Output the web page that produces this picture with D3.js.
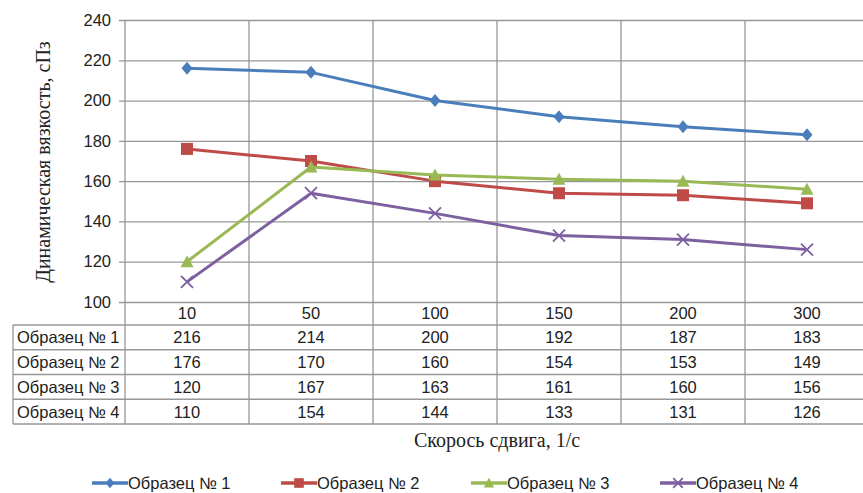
<!DOCTYPE html>
<html>
<head>
<meta charset="utf-8">
<script src="https://cdn.jsdelivr.net/npm/d3@7/dist/d3.min.js"></script>
<style>
  html, body { margin: 0; padding: 0; background: #fff; }
  svg { display: block; }
</style>
</head>
<body>
<script>
// Shear rates (1/s) and dynamic viscosity (cP) for four samples
const shearRates = ["10", "50", "100", "150", "200", "300"];
const sampleNames = ["Образец № 1", "Образец № 2", "Образец № 3", "Образец № 4"];
const sample1 = [216, 214, 200, 192, 187, 183];
const sample2 = [176, 170, 160, 154, 153, 149];
const sample3 = [120, 167, 163, 161, 160, 156];
const sample4 = [110, 154, 144, 133, 131, 126];
const yTicks = [100, 120, 140, 160, 180, 200, 220, 240];

const seriesValues = [sample1, sample2, sample3, sample4];
const colors = ["#4A7EBB", "#BE4B48", "#98B954", "#7D60A0"];
const markerTypes = ["diamond", "square", "triangle", "cross"];

const W = 863, H = 493;
const plot = { left: 125, right: 869, top: 20, bottom: 302 };
const rowH = 24.75;
const tableLeft = 13;
const tableTop = plot.bottom + 23;
const tableBottom = tableTop + rowH * sampleNames.length;
const gridColor = "#979797";
const sansFont = "'Liberation Sans', Arial, sans-serif";
const serifFont = "'Liberation Serif', 'Times New Roman', serif";
const textSize = 16.5;

const svg = d3.select("body").append("svg")
  .attr("width", W).attr("height", H);

const x = d3.scaleBand().domain(shearRates).range([plot.left, plot.right]);
const y = d3.scaleLinear().domain([100, 240]).range([plot.bottom, plot.top]);

// Horizontal gridlines with left tick marks
const yAxis = d3.axisLeft(y).tickValues(yTicks)
  .tickSize(-(plot.right - plot.left)).tickPadding(14);
const gy = svg.append("g").attr("transform", `translate(${plot.left},0)`).call(yAxis);
gy.select(".domain").remove();
gy.selectAll(".tick line").attr("stroke", gridColor).attr("stroke-width", 1.3)
  .attr("x1", -6);
gy.selectAll(".tick text").attr("font-family", sansFont).attr("font-size", textSize)
  .attr("fill", "#222");

// Column boundaries run from the top of the plot through the data table
const bounds = shearRates.map(d => x(d)).concat([plot.right]);
svg.append("g").selectAll("line").data(bounds).join("line")
  .attr("x1", d => d).attr("x2", d => d)
  .attr("y1", plot.top).attr("y2", tableBottom)
  .attr("stroke", gridColor).attr("stroke-width", 1.3);

// Table row borders
const rowLines = d3.range(sampleNames.length + 1).map(i => tableTop + i * rowH);
svg.append("g").selectAll("line").data(rowLines).join("line")
  .attr("x1", tableLeft).attr("x2", plot.right)
  .attr("y1", d => d).attr("y2", d => d)
  .attr("stroke", gridColor).attr("stroke-width", 1.3);
svg.append("line")
  .attr("x1", tableLeft).attr("x2", tableLeft)
  .attr("y1", tableTop).attr("y2", tableBottom)
  .attr("stroke", gridColor).attr("stroke-width", 1.3);

// Category labels in the header row
svg.append("g").selectAll("text").data(shearRates).join("text")
  .attr("x", d => x(d) + x.bandwidth() / 2)
  .attr("y", (plot.bottom + tableTop) / 2)
  .attr("dy", "0.36em").attr("text-anchor", "middle")
  .attr("font-family", sansFont).attr("font-size", textSize).attr("fill", "#222")
  .text(d => d);

// Table body: sample names and values
sampleNames.forEach((name, i) => {
  const cy = tableTop + i * rowH + rowH / 2;
  svg.append("text")
    .attr("x", tableLeft + 4).attr("y", cy).attr("dy", "0.36em")
    .attr("font-family", sansFont).attr("font-size", textSize).attr("fill", "#222")
    .text(name);
  svg.append("g").selectAll("text").data(seriesValues[i]).join("text")
    .attr("x", (d, j) => x(shearRates[j]) + x.bandwidth() / 2)
    .attr("y", cy).attr("dy", "0.36em").attr("text-anchor", "middle")
    .attr("font-family", sansFont).attr("font-size", textSize).attr("fill", "#222")
    .text(d => d);
});

// Marker shapes
function drawMarker(g, type, color, s = 1) {
  if (type === "diamond") {
    g.append("path").attr("d", `M0,${-6.5 * s}L${5.5 * s},0L0,${6.5 * s}L${-5.5 * s},0Z`)
      .attr("fill", color);
  } else if (type === "square") {
    g.append("rect").attr("x", -6 * s).attr("y", -6 * s)
      .attr("width", 12 * s).attr("height", 12 * s).attr("fill", color);
  } else if (type === "triangle") {
    g.append("path").attr("d", `M0,${-6.5 * s}L${6.5 * s},${5.5 * s}L${-6.5 * s},${5.5 * s}Z`)
      .attr("fill", color);
  } else {
    g.append("path").attr("d", `M${-6 * s},${-6 * s}L${6 * s},${6 * s}M${-6 * s},${6 * s}L${6 * s},${-6 * s}`)
      .attr("stroke", color).attr("stroke-width", 1.8).attr("fill", "none");
  }
}

// Series lines and markers
const line = d3.line()
  .x((d, j) => x(shearRates[j]) + x.bandwidth() / 2)
  .y(d => y(d));

seriesValues.forEach((vals, i) => {
  const g = svg.append("g");
  g.append("path").datum(vals).attr("d", line)
    .attr("fill", "none").attr("stroke", colors[i]).attr("stroke-width", 3)
    .attr("stroke-linejoin", "round");
  vals.forEach((v, j) => {
    const m = g.append("g")
      .attr("transform", `translate(${x(shearRates[j]) + x.bandwidth() / 2},${y(v)})`);
    drawMarker(m, markerTypes[i], colors[i]);
  });
});

// Axis titles
svg.append("text")
  .attr("transform", `translate(50,${(plot.top + plot.bottom) / 2 + 1}) rotate(-90)`)
  .attr("text-anchor", "middle")
  .attr("font-family", serifFont).attr("font-size", 20).attr("fill", "#222")
  .text("Динамическая вязкость, сПз");

svg.append("text")
  .attr("x", (plot.left + plot.right) / 2).attr("y", 447)
  .attr("text-anchor", "middle")
  .attr("font-family", serifFont).attr("font-size", 20).attr("fill", "#222")
  .text("Скорось сдвига, 1/с");

// Legend
const legendX = [92, 281, 471, 660];
sampleNames.forEach((name, i) => {
  const g = svg.append("g").attr("transform", `translate(${legendX[i]},483)`);
  g.append("line").attr("x1", 0).attr("x2", 36).attr("y1", 0).attr("y2", 0)
    .attr("stroke", colors[i]).attr("stroke-width", 3.5);
  const m = g.append("g").attr("transform", "translate(18,0)");
  drawMarker(m, markerTypes[i], colors[i], 0.8);
  g.append("text").attr("x", 36).attr("y", 0).attr("dy", "0.36em")
    .attr("font-family", sansFont).attr("font-size", textSize).attr("fill", "#222")
    .text(name);
});
</script>
</body>
</html>
